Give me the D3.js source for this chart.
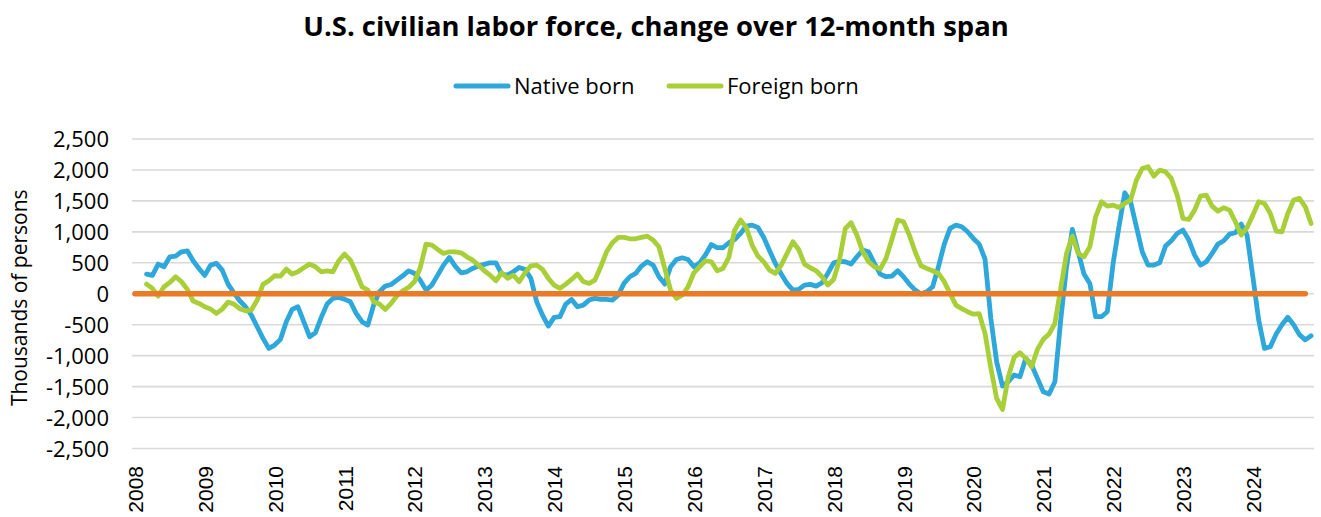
<!DOCTYPE html>
<html>
<head>
<meta charset="utf-8">
<script src="https://cdn.jsdelivr.net/npm/d3@7"></script>
<style>
  html, body { margin: 0; padding: 0; background: #ffffff; }
  svg { display: block; }
</style>
</head>
<body>
<svg id="chart" width="1321" height="517"></svg>
<script>
// ---------- DATA ----------
const titleText = "U.S. civilian labor force, change over 12-month span";
const yAxisTitle = "Thousands of persons";
const seriesNames = ["Native born", "Foreign born"];
const categoryStart = "2008-01";   // first month on the category axis
const categoryEnd = "2024-11";     // last month on the category axis
const seriesStart = "2008-03";     // first month with data
const zeroLineStart = "2008-01";
const zeroLineEnd = "2024-10";
const zeroLineValue = 0;
const yearLabels = ["2008","2009","2010","2011","2012","2013","2014","2015","2016",
                    "2017","2018","2019","2020","2021","2022","2023","2024"];
const yTicks = [-2500,-2000,-1500,-1000,-500,0,500,1000,1500,2000,2500];

// Native born, monthly from Mar 2008 (thousands)
const nativeBorn = [
  318, 296, 479, 436, 597, 608, 678, 694, 533, 409,                 // 2008 Mar-Dec
  296, 463, 490, 382, 156, 16, -113, -210, -345, -533, -721, -883,  // 2009
  -829, -737, -452, -253, -210, -452, -694, -630, -382, -167, -75, -59, // 2010
  -86, -129, -318, -452, -506, -183, 32, 124, 150, 220, 290, 370,   // 2011
  330, 220, 59, 140, 301, 463, 587, 447, 339, 355, 409, 447,        // 2012
  474, 500, 500, 318, 301, 355, 425, 393, 248, -129, -345, -522,    // 2013
  -382, -371, -167, -92, -210, -183, -102, -75, -92, -92, -102, -22, // 2014
  167, 275, 328, 447, 517, 463, 275, 156, 436, 554, 581, 554,       // 2015
  436, 500, 630, 795, 745, 743, 824, 877, 974, 1093, 1109, 1071,    // 2016
  910, 694, 490, 318, 167, 59, 70, 140, 151, 124, 178, 328,         // 2017
  500, 522, 517, 479, 597, 705, 678, 490, 318, 275, 285, 371,       // 2018
  275, 156, 59, -5, 32, 113, 436, 802, 1055, 1109, 1082, 1001,      // 2019
  894, 802, 560, -400, -1100, -1490, -1421, -1313, -1340, -1044, -1152, -1367, // 2020
  -1583, -1620, -1421, -425, 436, 1039, 678, 318, 167, -371, -371, -291, // 2021
  490, 1082, 1631, 1486, 1082, 678, 463, 463, 500, 770, 856, 974,   // 2022
  1028, 867, 624, 463, 517, 651, 802, 856, 964, 985, 1125, 947,     // 2023
  275, -425, -883, -856, -650, -500, -380, -500, -660, -745, -680   // 2024 Jan-Nov
];

// Foreign born, monthly from Mar 2008 (thousands)
const foreignBorn = [
  156, 86, -38, 113, 183, 275, 194, 70, -118, -156,                 // 2008 Mar-Dec
  -210, -248, -318, -248, -135, -167, -242, -275, -264, -102, 151, 210, // 2009
  291, 285, 398, 318, 355, 420, 479, 436, 355, 371, 355, 533,       // 2010
  640, 544, 339, 113, 59, -129, -167, -253, -156, -32, 48, 102,     // 2011
  194, 420, 802, 786, 716, 651, 678, 678, 662, 597, 544, 463,       // 2012
  371, 301, 210, 339, 248, 301, 194, 339, 452, 463, 393, 248,       // 2013
  140, 86, 156, 231, 318, 199, 167, 221, 436, 678, 824, 910,        // 2014
  910, 888, 888, 910, 931, 867, 759, 409, 59, -75, -22, 113,        // 2015
  339, 440, 533, 517, 371, 409, 587, 1028, 1190, 1071, 786, 608,    // 2016
  517, 382, 328, 463, 651, 840, 716, 479, 420, 371, 275, 140,       // 2017
  231, 544, 1055, 1147, 947, 678, 517, 436, 398, 571, 877, 1190,    // 2018
  1163, 947, 678, 452, 409, 371, 328, 194, 5, -183, -240, -290,     // 2019
  -330, -320, -640, -1200, -1690, -1870, -1340, -1028, -953, -1044, -1179, -899, // 2020
  -737, -651, -479, 86, 651, 931, 651, 597, 759, 1243, 1486, 1416,  // 2021
  1432, 1394, 1459, 1513, 1836, 2024, 2051, 1900, 1997, 1970, 1863, 1593, // 2022
  1217, 1200, 1351, 1577, 1593, 1416, 1335, 1389, 1351, 1163, 947, 1071, // 2023
  1270, 1486, 1459, 1297, 1012, 1001, 1297, 1513, 1540, 1405, 1136  // 2024 Jan-Nov
];

const colors = { native: "#2EA7DA", foreign: "#A8CF38", zero: "#EA7A26", grid: "#D9D9D9", text: "#000000" };

// ---------- LAYOUT ----------
const W = 1321, H = 517;
const plot = { left: 132, right: 1314, top: 139, bottom: 448.5 };
const fontMain = "'Open Sans', 'Noto Sans', sans-serif";

const svg = d3.select("#chart");
svg.append("rect").attr("width", W).attr("height", H).attr("fill", "#fff");

const parseM = d3.timeParse("%Y-%m");
const fmtM = d3.timeFormat("%Y-%m");
const months = d3.timeMonth.range(parseM(categoryStart), d3.timeMonth.offset(parseM(categoryEnd), 1)).map(fmtM);

const x = d3.scalePoint().domain(months).range([plot.left, plot.right]).padding(0.5);
const y = d3.scaleLinear().domain([-2500, 2500]).range([plot.bottom, plot.top]);

// gridlines
svg.append("g").selectAll("line").data(yTicks).join("line")
  .attr("x1", plot.left).attr("x2", plot.right)
  .attr("y1", d => y(d)).attr("y2", d => y(d))
  .attr("stroke", colors.grid).attr("stroke-width", 1.6);

// y axis labels
const yAxis = d3.axisLeft(y).tickValues(yTicks).tickSize(0).tickPadding(0)
  .tickFormat(d => d3.format(",")(d).replace("−", "-"));
const gy = svg.append("g").attr("transform", `translate(109,0)`).call(yAxis);
gy.select(".domain").remove();
gy.selectAll("text").attr("font-family", fontMain).attr("font-size", 22)
  .attr("fill", colors.text).attr("dy", "0.35em");

// x axis labels (years at January)
const yearCats = yearLabels.map(yy => yy + "-01");
const xAxis = d3.axisBottom(x).tickValues(yearCats).tickSize(0).tickPadding(0)
  .tickFormat(d => d.slice(0, 4));
const gx = svg.append("g").attr("transform", `translate(0,466)`).call(xAxis);
gx.select(".domain").remove();
gx.selectAll("text")
  .attr("font-family", "'Liberation Sans', Arial, sans-serif").attr("font-size", 21)
  .attr("fill", colors.text)
  .attr("text-anchor", "end")
  .attr("transform", "rotate(-90)")
  .attr("x", 0).attr("y", 0).attr("dy", "0.36em");

// series
const startIdx = months.indexOf(seriesStart);
const toPts = arr => arr.map((v, i) => ({ m: months[startIdx + i], v }));
const line = d3.line().x(d => x(d.m)).y(d => y(d.v));

svg.append("path").datum(toPts(nativeBorn)).attr("d", line)
  .attr("fill", "none").attr("stroke", colors.native).attr("stroke-width", 4.8)
  .attr("stroke-linejoin", "round").attr("stroke-linecap", "round");
svg.append("path").datum(toPts(foreignBorn)).attr("d", line)
  .attr("fill", "none").attr("stroke", colors.foreign).attr("stroke-width", 4.8)
  .attr("stroke-linejoin", "round").attr("stroke-linecap", "round");

// zero series
const zeroPts = [{ m: zeroLineStart, v: zeroLineValue }, { m: zeroLineEnd, v: zeroLineValue }];
svg.append("path").datum(zeroPts).attr("d", line)
  .attr("fill", "none").attr("stroke", colors.zero).attr("stroke-width", 5.5)
  .attr("stroke-linecap", "round");

// y axis title
svg.append("text")
  .attr("transform", `translate(27,${(plot.top + plot.bottom) / 2 + 4}) rotate(-90)`)
  .attr("text-anchor", "middle")
  .attr("font-family", fontMain).attr("font-size", 21)
  .attr("fill", colors.text).text(yAxisTitle);

// title
svg.append("text").attr("x", 656).attr("y", 36).attr("text-anchor", "middle")
  .attr("font-family", fontMain).attr("font-weight", "bold").attr("font-size", 27.4)
  .attr("fill", colors.text).text(titleText);

// legend
const legend = [
  { name: seriesNames[0], color: colors.native, x: 456 },
  { name: seriesNames[1], color: colors.foreign, x: 669 }
];
const lg = svg.append("g").selectAll("g").data(legend).join("g")
  .attr("transform", d => `translate(${d.x},86)`);
lg.append("line").attr("x1", 0).attr("x2", 52).attr("y1", 0).attr("y2", 0)
  .attr("stroke", d => d.color).attr("stroke-width", 5).attr("stroke-linecap", "round");
lg.append("text").attr("x", 58).attr("y", 0).attr("dy", "0.35em")
  .attr("font-family", fontMain).attr("font-size", 22).attr("fill", colors.text)
  .text(d => d.name);
</script>
</body>
</html>
